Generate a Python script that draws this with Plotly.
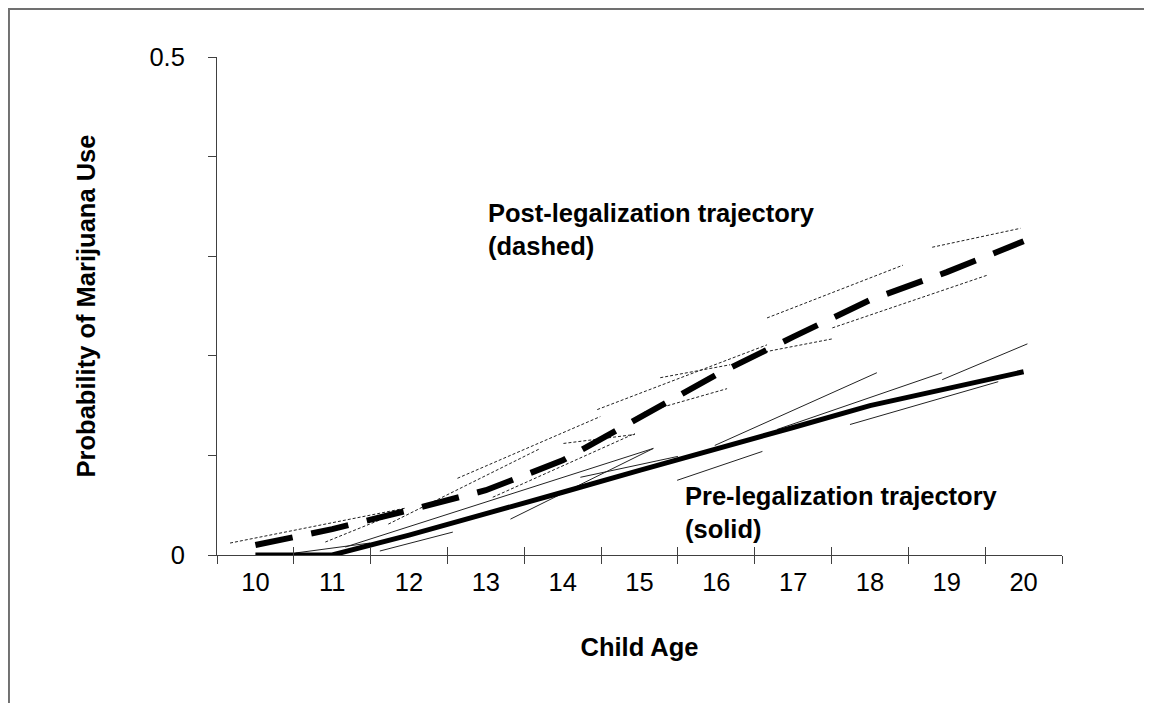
import plotly.graph_objects as go

# ---------------- data ----------------
ages = [10, 11, 12, 13, 14, 15, 16, 17, 18, 19, 20]
age_labels = ["10", "11", "12", "13", "14", "15", "16", "17", "18", "19", "20"]
post_trajectory = [0.010, 0.026, 0.045, 0.065, 0.095, 0.138, 0.181, 0.219, 0.256, 0.284, 0.315]
pre_trajectory = [0.000, 0.000, 0.020, 0.041, 0.063, 0.085, 0.106, 0.128, 0.150, 0.167, 0.184]

# thin cohort segments (post-legalization, dotted)
post_seg_age_start = [9.67, 10.91, 11.73, 12.63, 13.09, 14.01, 14.45, 15.05, 15.27, 16.66, 17.51, 16.57, 18.81]
post_seg_age_end = [11.95, 11.71, 13.71, 14.49, 14.94, 14.94, 16.66, 16.14, 16.18, 18.43, 19.53, 17.51, 19.96]
post_seg_prob_start = [0.012, 0.013, 0.031, 0.077, 0.058, 0.112, 0.146, 0.143, 0.178, 0.238, 0.228, 0.203, 0.309]
post_seg_prob_end = [0.047, 0.038, 0.107, 0.139, 0.122, 0.121, 0.211, 0.167, 0.191, 0.291, 0.281, 0.217, 0.328]

# thin cohort segments (pre-legalization, solid)
pre_seg_age_start = [10.52, 11.62, 11.17, 13.32, 14.23, 15.49, 15.98, 16.79, 17.74, 18.94]
pre_seg_age_end = [11.49, 12.57, 15.18, 15.18, 15.50, 16.60, 18.09, 18.94, 19.67, 20.05]
pre_seg_prob_start = [0.002, 0.004, 0.008, 0.036, 0.078, 0.075, 0.110, 0.126, 0.131, 0.176]
pre_seg_prob_end = [0.012, 0.023, 0.107, 0.107, 0.099, 0.104, 0.183, 0.183, 0.174, 0.212]

y_tick_values = [0, 0.1, 0.2, 0.3, 0.4, 0.5]
y_tick_labels = ["0", "", "", "", "", "0.5"]
boundaries = [9.5 + i for i in range(12)]

FONT = "Liberation Sans, Arial, sans-serif"
FS = 25.5


def segments(a0, a1, p0, p1):
    xs, ys = [], []
    for xa, xb, ya, yb in zip(a0, a1, p0, p1):
        xs += [xa, xb, None]
        ys += [ya, yb, None]
    return xs, ys


fig = go.Figure()

px, py = segments(pre_seg_age_start, pre_seg_age_end, pre_seg_prob_start, pre_seg_prob_end)
fig.add_trace(go.Scatter(x=px, y=py, mode="lines",
                         line=dict(color="#222222", width=1),
                         showlegend=False, hoverinfo="skip"))

qx, qy = segments(post_seg_age_start, post_seg_age_end, post_seg_prob_start, post_seg_prob_end)
fig.add_trace(go.Scatter(x=qx, y=qy, mode="lines",
                         line=dict(color="#222222", width=1, dash="3px,2px"),
                         showlegend=False, hoverinfo="skip"))

fig.add_trace(go.Scatter(x=ages, y=pre_trajectory, mode="lines",
                         line=dict(color="black", width=5),
                         showlegend=False, hoverinfo="skip"))

fig.add_trace(go.Scatter(x=ages, y=post_trajectory, mode="lines",
                         line=dict(color="black", width=6, dash="38px,19px"),
                         showlegend=False, hoverinfo="skip"))

# empty trace so the overlay axis (inner tick halves) is drawn
fig.add_trace(go.Scatter(x=[None], y=[None], xaxis="x2", mode="lines",
                         showlegend=False, hoverinfo="skip"))

axis_color = "#404040"

fig.update_layout(
    width=1144, height=695,
    margin=dict(l=209, r=90, t=49, b=148),
    paper_bgcolor="white", plot_bgcolor="white",
    font=dict(family=FONT, size=FS, color="black"),
    xaxis=dict(
        range=[9.5, 20.5],
        tickmode="array", tickvals=ages, ticktext=age_labels,
        ticks="", showgrid=False, zeroline=False,
        showline=True, linecolor=axis_color, linewidth=1,
        tickfont=dict(size=FS, family=FONT, color="black"),
        ticklabelstandoff=4,
        minor=dict(tickmode="array", tickvals=boundaries, ticks="outside",
                   ticklen=8, tickwidth=1, tickcolor=axis_color, showgrid=False),
        title=dict(text="<b>Child Age</b>", font=dict(size=FS, family=FONT, color="black"),
                   standoff=43),
    ),
    xaxis2=dict(
        range=[9.5, 20.5], overlaying="x", anchor="y", side="bottom",
        tickmode="array", tickvals=boundaries, ticks="inside", ticklen=8,
        tickwidth=1, tickcolor=axis_color, showticklabels=False,
        showgrid=False, zeroline=False, showline=False,
    ),
    yaxis=dict(
        range=[0, 0.5],
        tickmode="array", tickvals=y_tick_values, ticktext=y_tick_labels,
        ticks="outside", ticklen=8, tickwidth=1, tickcolor=axis_color,
        showgrid=False, zeroline=False,
        showline=True, linecolor=axis_color, linewidth=1,
        tickfont=dict(size=FS, family=FONT, color="black"),
        ticklabelstandoff=18,
        title=dict(text="<b>Probability of Marijuana Use</b>",
                   font=dict(size=FS, family=FONT, color="black"), standoff=46),
    ),
    annotations=[
        dict(x=13.0, y=0.327, xref="x", yref="y", xanchor="left", yanchor="middle",
             align="left", showarrow=False,
             text="<b>Post-legalization trajectory<br>(dashed)</b>",
             font=dict(size=FS, family=FONT, color="black")),
        dict(x=15.57, y=0.043, xref="x", yref="y", xanchor="left", yanchor="middle",
             align="left", showarrow=False,
             text="<b>Pre-legalization trajectory<br>(solid)</b>",
             font=dict(size=FS, family=FONT, color="black")),
    ],
    shapes=[
        dict(type="rect", xref="paper", yref="paper",
             x0=-0.2462, x1=1.1041, y0=-0.4, y1=1.0964,
             line=dict(color="#707070", width=2), fillcolor="rgba(0,0,0,0)", layer="below"),
    ],
)

fig.write_html("out.html")
